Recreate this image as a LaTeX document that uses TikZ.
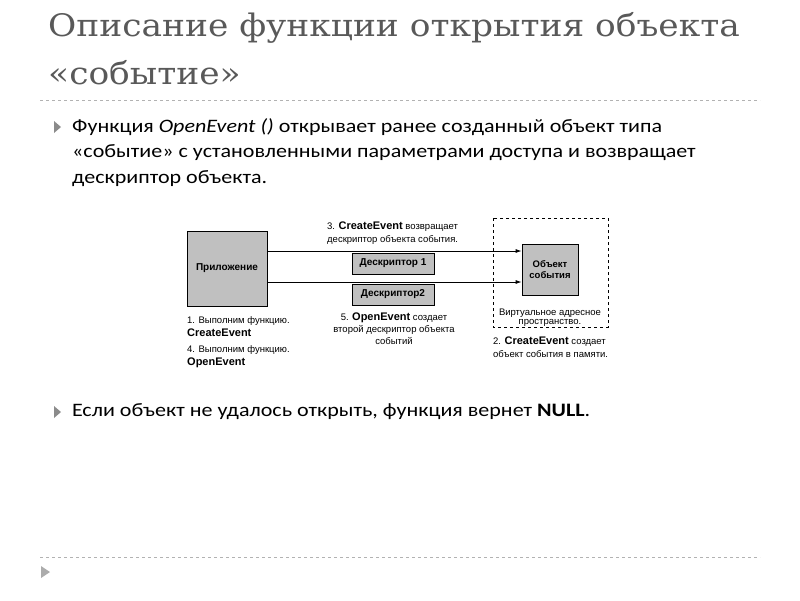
\documentclass[tikz,border=0pt]{standalone}
\usepackage{fontspec}
\setmainfont{Carlito}[FakeStretch=1.16]
\newfontfamily\titlefont{DejaVu Serif}[FakeStretch=1.11]
\newfontfamily\dfont{Liberation Sans}
\usetikzlibrary{arrows.meta}
\definecolor{tgray}{HTML}{595959}
\definecolor{bfill}{HTML}{C0C0C0}
\begin{document}
\begin{tikzpicture}[x=1pt,y=-1pt,
  body/.style={anchor=west,inner sep=0,font=\fontsize{19}{22}\selectfont},
  sm/.style={inner sep=0,font=\dfont\fontsize{9.5}{11}\selectfont},
  bx/.style={draw,fill=bfill,line width=0.8pt},
  bul/.style={fill=tgray!70},
  arr/.style={-{Latex[length=6pt,width=4pt]},line width=0.8pt}]
\useasboundingbox (0,0) rectangle (800,600);
\node[anchor=west,inner sep=0,text=tgray,font=\titlefont\fontsize{31}{34}\selectfont] (t1) at (48,28) {Описание функции открытия объекта};
\node[anchor=west,inner sep=0,text=tgray,font=\titlefont\fontsize{31}{34}\selectfont] (t2) at (48,73) {«событие»};
\draw[dashed,gray!60] (40,100) -- (760,100);
\draw[dashed,gray!60] (40,557) -- (760,557);
\fill[bul] (54,121) -- (61,127) -- (54,133) -- cycle;
\fill[bul] (54,406) -- (61,412) -- (54,418) -- cycle;
\fill[tgray!50] (41,566) -- (50,572) -- (41,578) -- cycle;
\node[body] (b1) at (72,127) {Функция \textit{OpenEvent ()} открывает ранее созданный объект типа};
\node[body] (b2) at (72,153) {«событие» с установленными параметрами доступа и возвращает};
\node[body] (b3) at (72,179) {дескриптор объекта.};
\node[body] (b4) at (72,412) {Если объект не удалось открыть, функция вернет \textbf{NULL}.};
% diagram
\draw[dashed,line width=0.8pt] (493,218) rectangle (608,327);
\node[bx,minimum width=80,minimum height=75,inner sep=0,font=\dfont\bfseries\fontsize{10}{11}\selectfont] (app) at (227,268.5) {Приложение};
\node[bx,minimum width=56,minimum height=51,inner sep=0,align=center,font=\dfont\bfseries\fontsize{9.5}{11}\selectfont] (obj) at (550,269.5) {Объект\\события};
\coordinate (a1) at (267,251); \coordinate (a2) at (267,282);
\draw[arr] (a1) -- (a1 -| obj.west);
\draw[arr] (a2) -- (a2 -| obj.west);
\node[bx,minimum width=82,minimum height=21,inner sep=0,font=\dfont\bfseries\fontsize{10}{11}\selectfont] (d1) at (393,263.5) {Дескриптор 1};
\node[bx,minimum width=82,minimum height=21,inner sep=0,font=\dfont\bfseries\fontsize{10}{11}\selectfont] (d2) at (393,294.5) {Дескриптор2};
\node[sm,anchor=west] (l3a) at (327,227) {3. \textbf{\fontsize{11}{12}\selectfont CreateEvent} возвращает};
\node[sm,anchor=west] (l3b) at (327,240) {дескриптор объекта события.};
\node[sm] (v1) at (550,313) {Виртуальное адресное};
\node[sm] (v2) at (550,323) {пространство.};
\node[sm,anchor=west] (l1a) at (187,321) {1. Выполним функцию.};
\node[sm,anchor=west,font=\dfont\bfseries\fontsize{11}{12}\selectfont] (l1b) at (187,333) {CreateEvent};
\node[sm,anchor=west] (l4a) at (187,350) {4. Выполним функцию.};
\node[sm,anchor=west,font=\dfont\bfseries\fontsize{11}{12}\selectfont] (l4b) at (187,363) {OpenEvent};
\node[sm] (l5a) at (394,318) {5. \textbf{\fontsize{11}{12}\selectfont OpenEvent} создает};
\node[sm] (l5b) at (394,330) {второй дескриптор объекта};
\node[sm] (l5c) at (394,341) {событий};
\node[sm,anchor=west] (l2a) at (493,342) {2. \textbf{\fontsize{11}{12}\selectfont CreateEvent} создает};
\node[sm,anchor=west] (l2b) at (493,354) {объект события в памяти.};
\end{tikzpicture}
\end{document}
